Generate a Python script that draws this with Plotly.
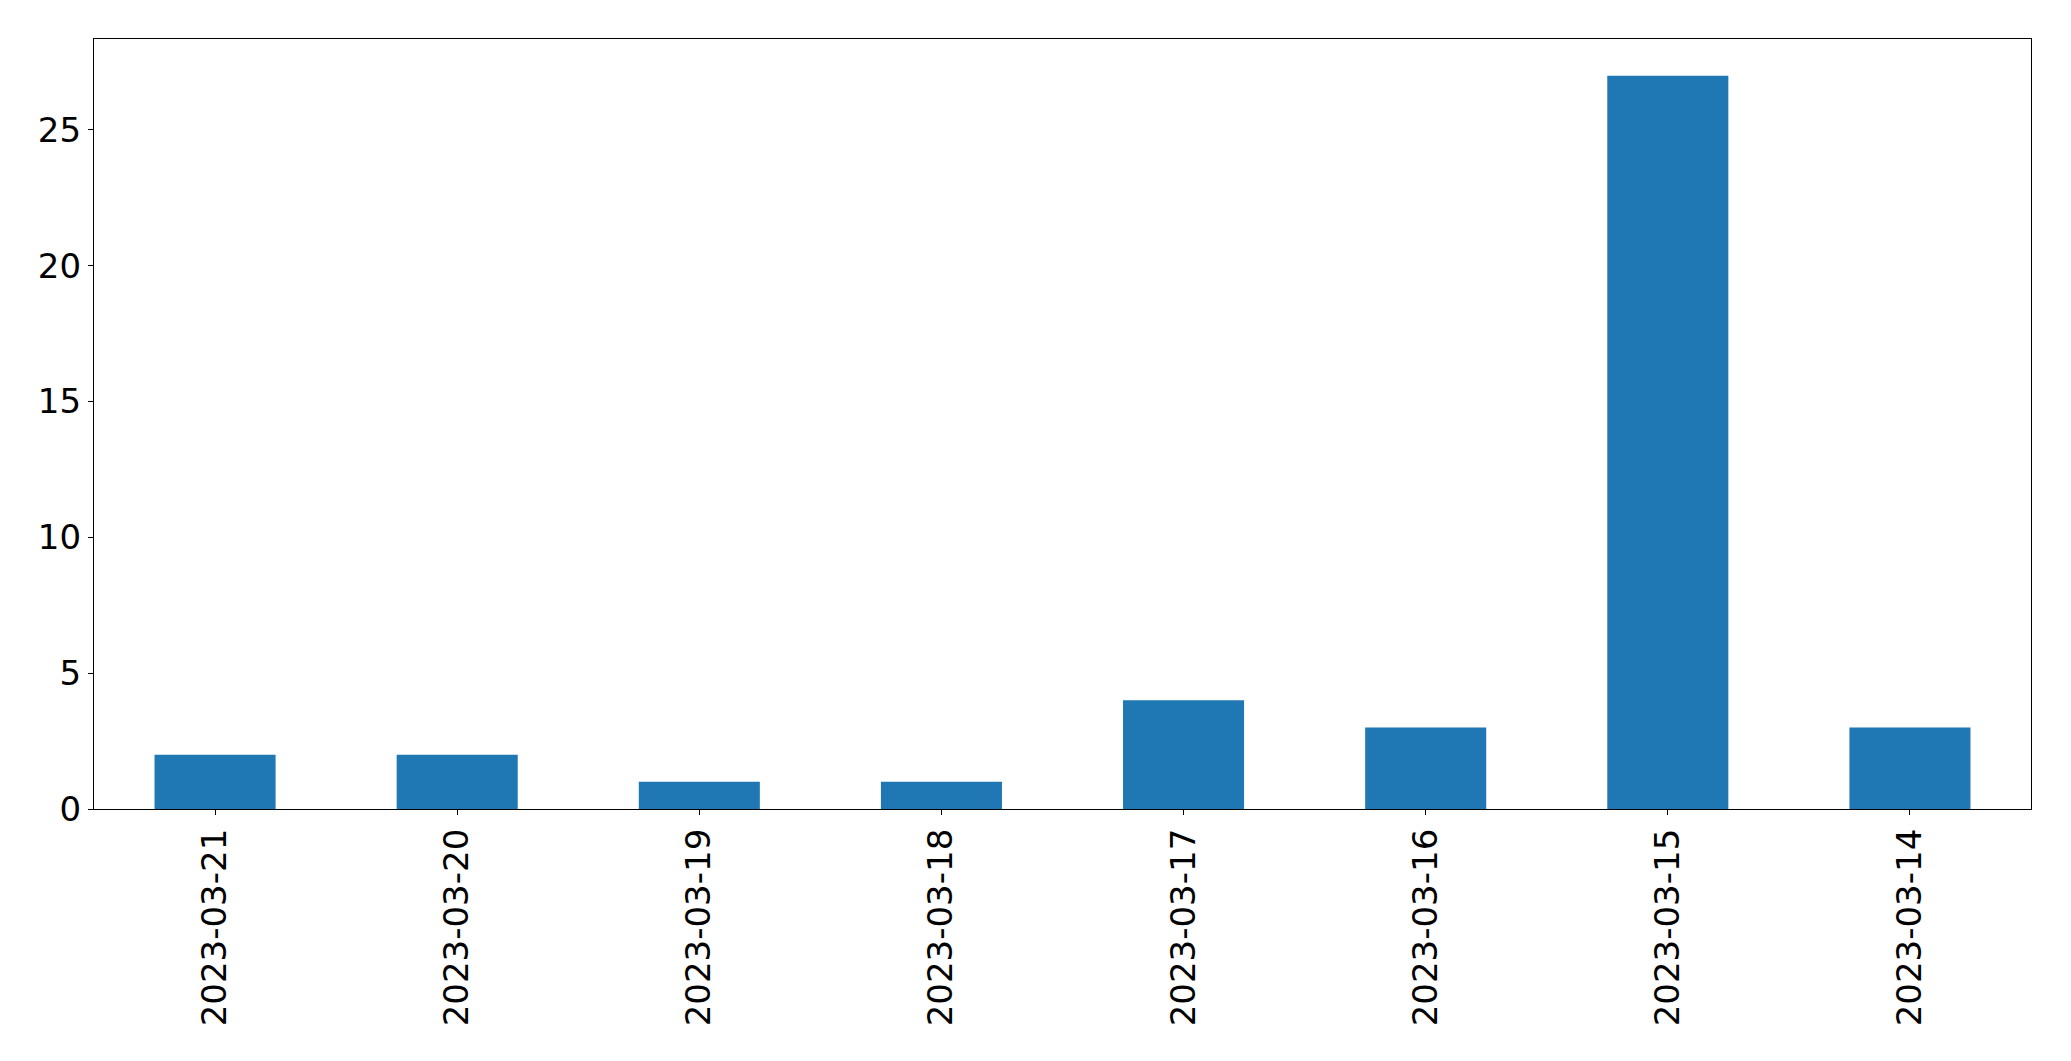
import plotly.graph_objects as go

dates = ["2023-03-21", "2023-03-20", "2023-03-19", "2023-03-18",
         "2023-03-17", "2023-03-16", "2023-03-15", "2023-03-14"]
counts = [2, 2, 1, 1, 4, 3, 27, 3]
y_ticks = [0, 5, 10, 15, 20, 25]

fig = go.Figure(go.Bar(x=list(range(len(dates))), y=counts, width=0.5,
                       marker=dict(color="#1f77b4", line=dict(width=0))))

axis_common = dict(showline=True, linecolor="black", linewidth=1.3, mirror=True,
                   ticks="outside", ticklen=5, tickwidth=1.3, tickcolor="black",
                   showgrid=False, zeroline=False,
                   tickfont=dict(family="DejaVu Sans", size=34, color="black"))

# page body has an 8px margin, so the figure is offset by 8px
fig.update_layout(
    width=2063, height=1053,
    margin=dict(l=86, r=40, t=31, b=252),
    plot_bgcolor="white", paper_bgcolor="white",
    showlegend=False,
    xaxis=dict(range=[-0.5, len(dates) - 0.5], tickmode="array",
               tickvals=list(range(len(dates))), ticktext=dates,
               tickangle=-90, **axis_common),
    yaxis=dict(range=[0, 28.35], tickmode="array", tickvals=y_ticks,
               ticktext=[str(v) for v in y_ticks], **axis_common),
)

fig.write_html("out.html")
